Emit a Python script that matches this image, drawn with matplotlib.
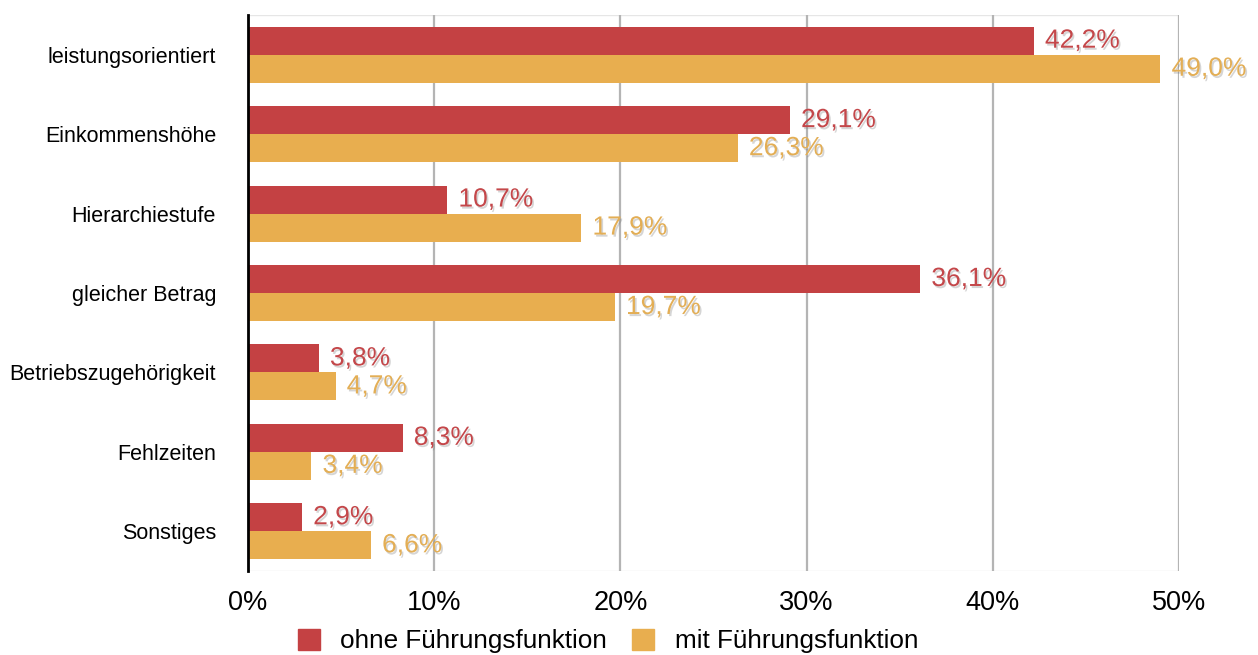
import matplotlib
matplotlib.use("Agg")
import matplotlib.pyplot as plt
import matplotlib.patheffects as pe
import numpy as np
from matplotlib.patches import Patch

categories = ["leistungsorientiert", "Einkommenshöhe", "Hierarchiestufe", "gleicher Betrag",
              "Betriebszugehörigkeit", "Fehlzeiten", "Sonstiges"]
ohne = [42.2, 29.1, 10.7, 36.1, 3.8, 8.3, 2.9]
mit = [49.0, 26.3, 17.9, 19.7, 4.7, 3.4, 6.6]
series_names = ["ohne Führungsfunktion", "mit Führungsfunktion"]
xticks = [0, 10, 20, 30, 40, 50]

RED = "#C44143"
ORANGE = "#E8AE4F"
RED_T = "#C4474A"
ORANGE_T = "#E3AE55"

plt.rcParams['font.family'] = ['Liberation Sans', 'DejaVu Sans']

fig = plt.figure(figsize=(12.58, 6.55), dpi=100)
ax = fig.add_axes([248/1258, 1-571/655, (1179-248)/1258, (571-15)/655])

y = np.arange(len(categories))
h = 0.353
ax.barh(y - h/2, ohne, height=h, color=RED, zorder=3)
ax.barh(y + h/2, mit, height=h, color=ORANGE, zorder=3)

for i in range(len(categories)):
    t1 = ax.text(ohne[i] + 0.6, y[i] - h/2, f"{ohne[i]:.1f}%".replace('.', ','),
                 va='center', ha='left', fontsize=19, color=RED_T, zorder=5)
    t2 = ax.text(mit[i] + 0.6, y[i] + h/2, f"{mit[i]:.1f}%".replace('.', ','),
                 va='center', ha='left', fontsize=19, color=ORANGE_T, zorder=5)
    for t in (t1, t2):
        t.set_path_effects([pe.withSimplePatchShadow(offset=(1.2, -1.5), shadow_rgbFace='#777777', alpha=0.3)])

ax.set_xlim(0, 50)
ax.set_ylim(len(categories) - 0.5, -0.5)
ax.set_yticks(y)
ax.set_yticklabels(categories, fontsize=15.5)
ax.set_xticks(xticks)
ax.set_xticklabels([f"{v}%" for v in xticks], fontsize=19.5)
ax.tick_params(axis='both', length=0)
ax.tick_params(axis='y', pad=23)
ax.tick_params(axis='x', pad=14)
ax.grid(axis='x', color='#b4b4b4', linewidth=1.6, zorder=0)
for s in ['top', 'right', 'bottom']:
    ax.spines[s].set_visible(False)
ax.spines['left'].set_color('black')
ax.spines['left'].set_linewidth(2)
ax.spines['left'].set_zorder(4)
ax.axhline(-0.5, color='#e6e6e6', linewidth=1, zorder=1)
ax.axhline(len(categories) - 0.5, color='#e6e6e6', linewidth=1, zorder=1)

handles = [Patch(color=RED), Patch(color=ORANGE)]
fig.legend(handles, series_names, loc='center', bbox_to_anchor=(608/1258, 1-641/655),
           ncol=2, frameon=False, fontsize=18.8, handlelength=0.85, handleheight=0.85,
           handletextpad=0.77, columnspacing=0.96)

fig.savefig("out.png", dpi=100)
